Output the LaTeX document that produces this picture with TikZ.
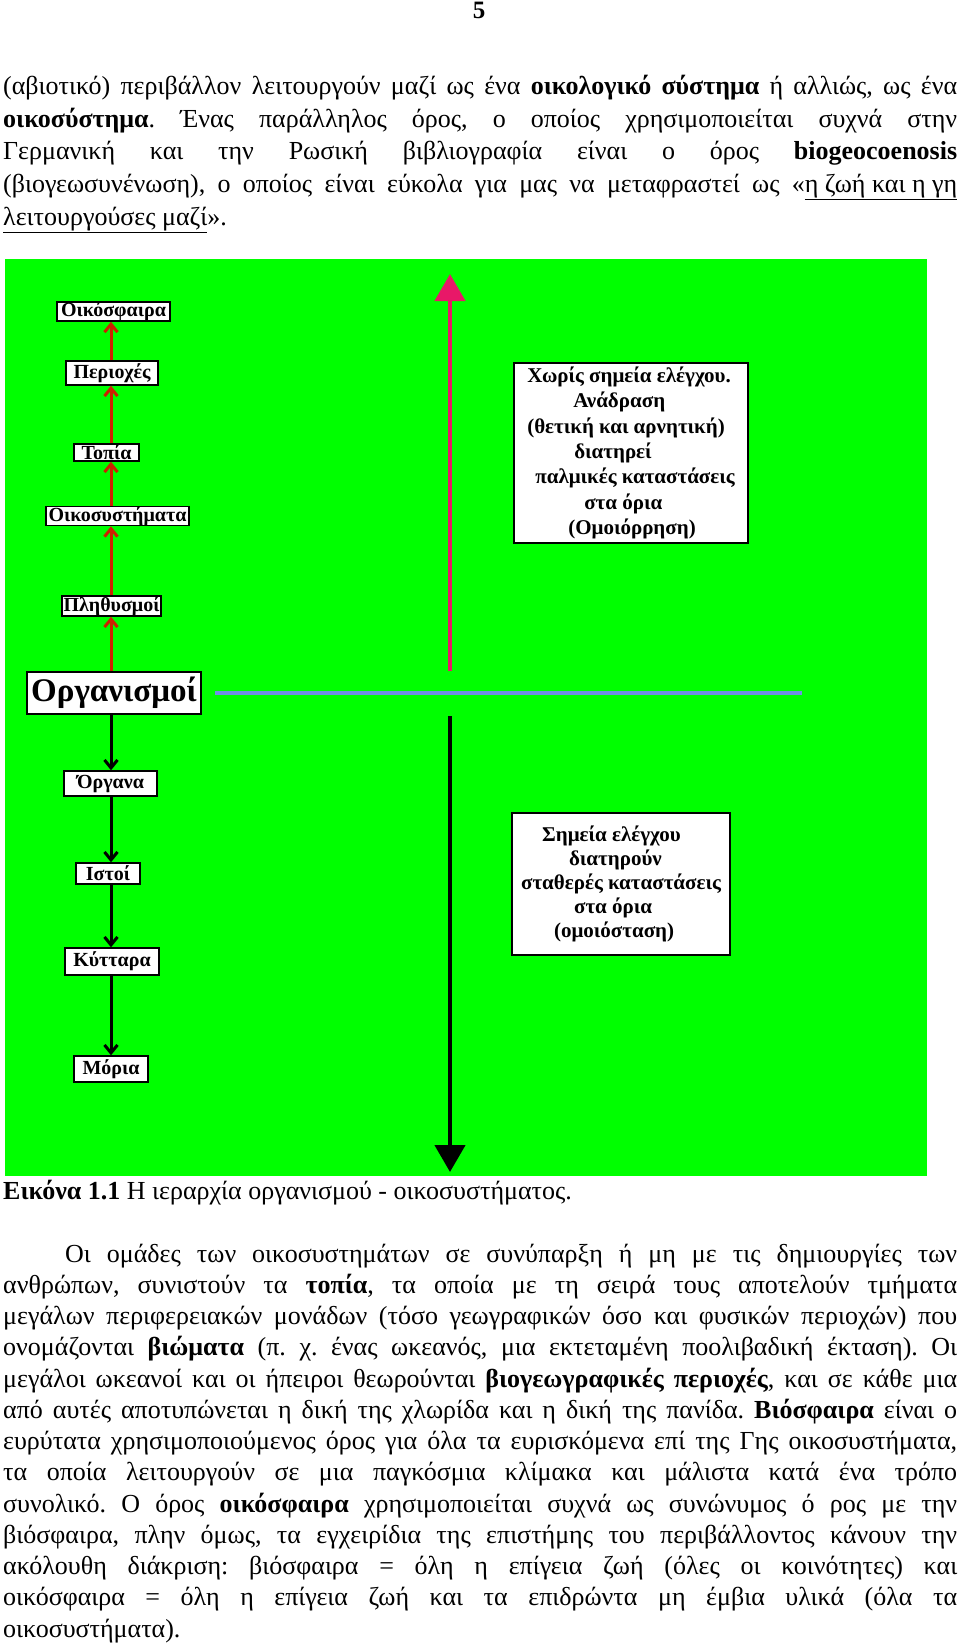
\documentclass[tikz,border=0pt]{standalone}
\usepackage{fontspec}
\setmainfont{Liberation Serif}
\usetikzlibrary{arrows.meta}
\definecolor{bggreen}{RGB}{0,255,0}
\definecolor{arrred}{RGB}{204,34,0}
\definecolor{pinkarr}{RGB}{232,24,104}
\definecolor{blueline}{RGB}{112,142,230}
\newcommand{\jl}[1]{\makebox[954pt][s]{#1}}
\frenchspacing
\begin{document}
\begin{tikzpicture}[x=1pt,y=-1pt,
  body/.style={anchor=base west, inner sep=0pt, font=\fontsize{26}{30}\selectfont},
  lvl/.style={draw=black, line width=1.4pt, fill=white, inner sep=0pt, font=\fontsize{20}{22}\bfseries\selectfont},
  note/.style={draw=black, line width=1.4pt, fill=white, inner sep=0pt, align=left},
  uparr/.style={draw=arrred, line width=3pt, -{Straight Barb[length=8pt,width=13pt]}},
  downarr/.style={draw=black, line width=3pt, -{Straight Barb[length=8pt,width=13pt]}},
  bigpink/.style={draw=pinkarr, line width=4.5pt, -{Triangle[length=27pt,width=30pt]}},
  bigblack/.style={draw=black, line width=4.5pt, -{Triangle[length=27pt,width=30pt]}}
]
\useasboundingbox[fill=white] (0,0) rectangle (960,1643);

% page number
\node[anchor=base, inner sep=0pt, font=\fontsize{25}{30}\bfseries\selectfont] (pagenum) at (479,19) {5};

% paragraph 1
\node[body] (a1) at (3,95) {\jl{(αβιοτικό) περιβάλλον λειτουργούν μαζί ως ένα \textbf{οικολογικό σύστημα} ή αλλιώς, ως ένα}};
\node[body] (a2) at (3,127.5) {\jl{\textbf{οικοσύστημα}. Ένας παράλληλος όρος, ο οποίος χρησιμοποιείται συχνά στην}};
\node[body] (a3) at (3,160) {\jl{Γερμανική και την Ρωσική βιβλιογραφία είναι ο όρος \textbf{biogeocoenosis}}};
\node[body] (a4) at (3,192.5) {\jl{(βιογεωσυνένωση), ο οποίος είναι εύκολα για μας να μεταφραστεί ως «\underline{η ζωή και η γη}}};
\node[body] (a5) at (3,225) {\underline{λειτουργούσες μαζί}».};

% green panel
\fill[bggreen] (5,259) rectangle (927,1176);

% hierarchy boxes
\node[lvl, minimum width=113pt, minimum height=19pt] (oik) at (113.5,311.5) {Οικόσφαιρα};
\node[lvl, minimum width=92pt, minimum height=24pt] (per) at (112,373) {Περιοχές};
\node[lvl, minimum width=65pt, minimum height=17pt] (top) at (106.5,452.5) {Τοπία};
\node[lvl, minimum width=143pt, minimum height=18pt] (oikosys) at (117.5,516) {Οικοσυστήματα};
\node[lvl, minimum width=99pt, minimum height=20pt] (pleth) at (111.5,606) {Πληθυσμοί};
\node[lvl, minimum width=174pt, minimum height=42pt, font=\fontsize{33}{36}\bfseries\selectfont] (org) at (114,693) {Οργανισμοί};
\node[lvl, minimum width=93pt, minimum height=25pt] (organa) at (110.5,783.5) {Όργανα};
\node[lvl, minimum width=64pt, minimum height=21pt] (istoi) at (108,873.5) {Ιστοί};
\node[lvl, minimum width=94pt, minimum height=27pt] (kytt) at (112,961.5) {Κύτταρα};
\node[lvl, minimum width=74pt, minimum height=26pt] (mor) at (111,1069) {Μόρια};

\coordinate (ax) at (111,0);
\draw[uparr] (per.north -| ax) -- (oik.south -| ax);
\draw[uparr] (top.north -| ax) -- (per.south -| ax);
\draw[uparr] (oikosys.north -| ax) -- (top.south -| ax);
\draw[uparr] (pleth.north -| ax) -- (oikosys.south -| ax);
\draw[uparr] (org.north -| ax) -- (pleth.south -| ax);
\draw[downarr] (org.south -| ax) -- (organa.north -| ax);
\draw[downarr] (organa.south -| ax) -- (istoi.north -| ax);
\draw[downarr] (istoi.south -| ax) -- (kytt.north -| ax);
\draw[downarr] (kytt.south -| ax) -- (mor.north -| ax);

% central axis
\coordinate (pinkbot) at (450,671);
\coordinate (pinktop) at (450,274);
\coordinate (blacktop) at (450,716);
\coordinate (blackbot) at (450,1172);
\coordinate (blueL) at (215,693);
\coordinate (blueR) at (802,693);
\draw[bigpink] (pinkbot) -- (pinktop);
\draw[bigblack] (blacktop) -- (blackbot);
\draw[draw=blueline, line width=4.5pt] (blueL) -- (blueR);

% notes
\node[note, minimum width=234pt, minimum height=180pt, font=\fontsize{21}{25.3}\bfseries\selectfont] (nofb) at (631,453) {%
Χωρίς σημεία ελέγχου.\\
\hspace*{46pt}Ανάδραση\\
(θετική και αρνητική)\\
\hspace*{47pt}διατηρεί\\
\hspace*{8pt}παλμικές καταστάσεις\\
\hspace*{57pt}στα όρια\\
\hspace*{41pt}(Ομοιόρρηση)};
\node[note, minimum width=218pt, minimum height=142pt, font=\fontsize{21}{24}\bfseries\selectfont] (fb) at (621,884) {%
\hspace*{21pt}Σημεία ελέγχου\\
\hspace*{48pt}διατηρούν\\
σταθερές καταστάσεις\\
\hspace*{53pt}στα όρια\\
\hspace*{33pt}(ομοιόσταση)};

% caption
\node[body] (cap) at (3,1199) {\textbf{Εικόνα 1.1} Η ιεραρχία οργανισμού - οικοσυστήματος.};

% paragraph 2
\node[body] (b1) at (3,1262) {\jl{\hspace*{62pt}Οι ομάδες των οικοσυστημάτων σε συνύπαρξη ή μη με τις δημιουργίες των}};
\node[body] (b2) at (3,1293.25) {\jl{ανθρώπων, συνιστούν τα \textbf{τοπία}, τα οποία με τη σειρά τους αποτελούν τμήματα}};
\node[body] (b3) at (3,1324.5) {\jl{μεγάλων περιφερειακών μονάδων (τόσο γεωγραφικών όσο και φυσικών περιοχών) που}};
\node[body] (b4) at (3,1355.75) {\jl{ονομάζονται \textbf{βιώματα} (π. χ. ένας ωκεανός, μια εκτεταμένη ποολιβαδική έκταση). Οι}};
\node[body] (b5) at (3,1387) {\jl{μεγάλοι ωκεανοί και οι ήπειροι θεωρούνται \textbf{βιογεωγραφικές περιοχές}, και σε κάθε μια}};
\node[body] (b6) at (3,1418.25) {\jl{από αυτές αποτυπώνεται η δική της χλωρίδα και η δική της πανίδα. \textbf{Βιόσφαιρα} είναι ο}};
\node[body] (b7) at (3,1449.5) {\jl{ευρύτατα χρησιμοποιούμενος όρος για όλα τα ευρισκόμενα επί της Γης οικοσυστήματα,}};
\node[body] (b8) at (3,1480.75) {\jl{τα οποία λειτουργούν σε μια παγκόσμια κλίμακα και μάλιστα κατά ένα τρόπο}};
\node[body] (b9) at (3,1512) {\jl{συνολικό. Ο όρος \textbf{οικόσφαιρα} χρησιμοποιείται συχνά ως συνώνυμος ό ρος με την}};
\node[body] (b10) at (3,1543.25) {\jl{βιόσφαιρα, πλην όμως, τα εγχειρίδια της επιστήμης του περιβάλλοντος κάνουν την}};
\node[body] (b11) at (3,1574.5) {\jl{ακόλουθη διάκριση: βιόσφαιρα = όλη η επίγεια ζωή (όλες οι κοινότητες) και}};
\node[body] (b12) at (3,1605.75) {\jl{οικόσφαιρα = όλη η επίγεια ζωή και τα επιδρώντα μη έμβια υλικά (όλα τα}};
\node[body] (b13) at (3,1637) {οικοσυστήματα).};
\end{tikzpicture}
\end{document}
